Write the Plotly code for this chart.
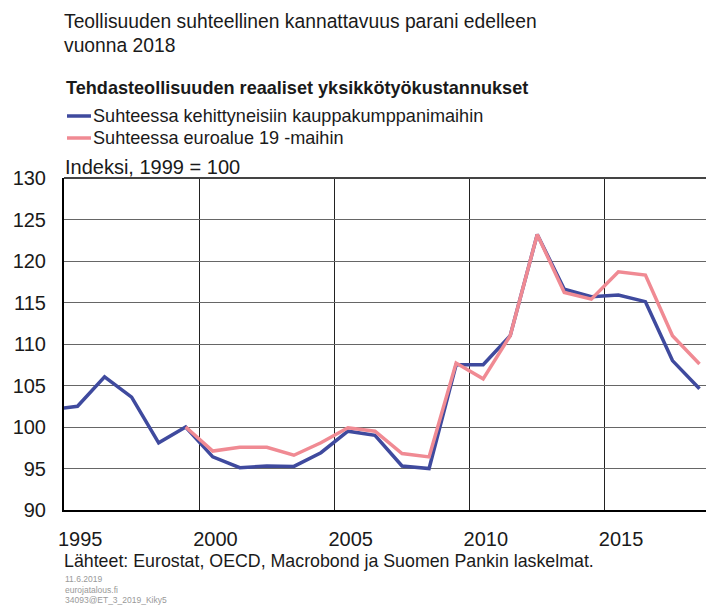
import plotly.graph_objects as go

years_blue = list(range(1994, 2019))
blue = [102.1, 102.5, 106.05, 103.6, 98.1, 100.0, 96.4, 95.1, 95.3, 95.25, 96.9, 99.5,
        99.0, 95.3, 95.0, 107.5, 107.5, 111.0, 123.2, 116.6, 115.7, 115.9, 115.1, 108.0, 104.6]
years_pink = list(range(1999, 2019))
pink = [100.0, 97.1, 97.55, 97.55, 96.6, 98.1, 99.9, 99.5, 96.8, 96.4, 107.7, 105.8,
        111.0, 123.2, 116.2, 115.4, 118.7, 118.3, 111.0, 107.6]

name_blue = "Suhteessa kehittyneisiin kauppakumppanimaihin"
name_pink = "Suhteessa euroalue 19 -maihin"
col_blue = "#3F4A9E"
col_pink = "#F08A93"

title_lines = ["Teollisuuden suhteellinen kannattavuus parani edelleen", "vuonna 2018"]
subtitle = "Tehdasteollisuuden reaaliset yksikkötyökustannukset"
unit_label = "Indeksi, 1999 = 100"
source = "Lähteet: Eurostat, OECD, Macrobond ja Suomen Pankin laskelmat."
meta = ["11.6.2019", "eurojatalous.fi", "34093@ET_3_2019_Kiky5"]

x_label_years = [1995, 2000, 2005, 2010, 2015]
grid_years = [2000, 2005, 2010, 2015]

FONT = "Liberation Sans, Arial, sans-serif"
TXT = "#1a1a1a"

fig = go.Figure()
# annual observations placed at mid-year
fig.add_trace(go.Scatter(x=[y + 0.5 for y in years_blue], y=blue, mode="lines",
                         line=dict(color=col_blue, width=3.5), name=name_blue, showlegend=False))
fig.add_trace(go.Scatter(x=[y + 0.5 for y in years_pink], y=pink, mode="lines",
                         line=dict(color=col_pink, width=3.5), name=name_pink, showlegend=False))

fig.update_layout(
    width=706, height=608,
    margin=dict(l=64, r=0, t=178, b=98),
    paper_bgcolor="white", plot_bgcolor="white",
    font=dict(family=FONT, color=TXT),
    xaxis=dict(range=[1995.0, 2018.74], tickmode="array",
               tickvals=[y + 0.6 for y in x_label_years],
               ticktext=[str(y) for y in x_label_years],
               showgrid=False, ticks="", tickfont=dict(size=20, color=TXT),
               ticklabelstandoff=10,
               showline=True, linecolor="black", linewidth=2,
               minor=dict(tickvals=grid_years, showgrid=True, gridcolor="#222", gridwidth=1, ticks=""),
               zeroline=False, fixedrange=True),
    yaxis=dict(range=[90, 130], dtick=5, showgrid=True, gridcolor="#666", gridwidth=1,
               ticks="", tickfont=dict(size=20, color=TXT), ticklabelstandoff=12,
               showline=True, linecolor="black", linewidth=2, zeroline=False, fixedrange=True),
)

# top border
fig.add_shape(type="line", xref="paper", yref="paper", x0=0, x1=1, y0=1, y1=1,
              line=dict(color="#444", width=2))

ann = []
ann.append(dict(text=title_lines[0], x=62, y=22, font=dict(size=19.3, color=TXT)))
ann.append(dict(text=title_lines[1], x=62, y=46, font=dict(size=19.3, color=TXT)))
ann.append(dict(text="<b>" + subtitle + "</b>", x=64, y=88, font=dict(size=18.1, color=TXT)))
for i, (nm, col) in enumerate([(name_blue, col_blue), (name_pink, col_pink)]):
    yy = 116 + i * 22
    ann.append(dict(text=nm, x=91, y=yy, font=dict(size=18.1, color=TXT)))
    fig.add_shape(type="line", xref="paper", yref="paper",
                  x0=(67 - 64) / 642, x1=(91 - 64) / 642,
                  y0=1 + (178 - yy) / 332, y1=1 + (178 - yy) / 332,
                  line=dict(color=col, width=3.5))
ann.append(dict(text=unit_label, x=63, y=167, font=dict(size=20, color=TXT)))
ann.append(dict(text=source, x=62, y=561, font=dict(size=17.8, color=TXT)))
for i, m in enumerate(meta):
    ann.append(dict(text=m, x=63, y=579 + i * 10.5, font=dict(size=8.5, color="#999")))

for a in ann:
    px, py = a.pop("x"), a.pop("y")
    fig.add_annotation(xref="paper", yref="paper", x=(px - 64) / 642, y=1 + (178 - py) / 332,
                       xanchor="left", yanchor="middle", showarrow=False, **a)

fig.write_html("out.html", config={"displayModeBar": False},
               post_script="document.body.style.margin='0';document.body.style.overflow='hidden';")
